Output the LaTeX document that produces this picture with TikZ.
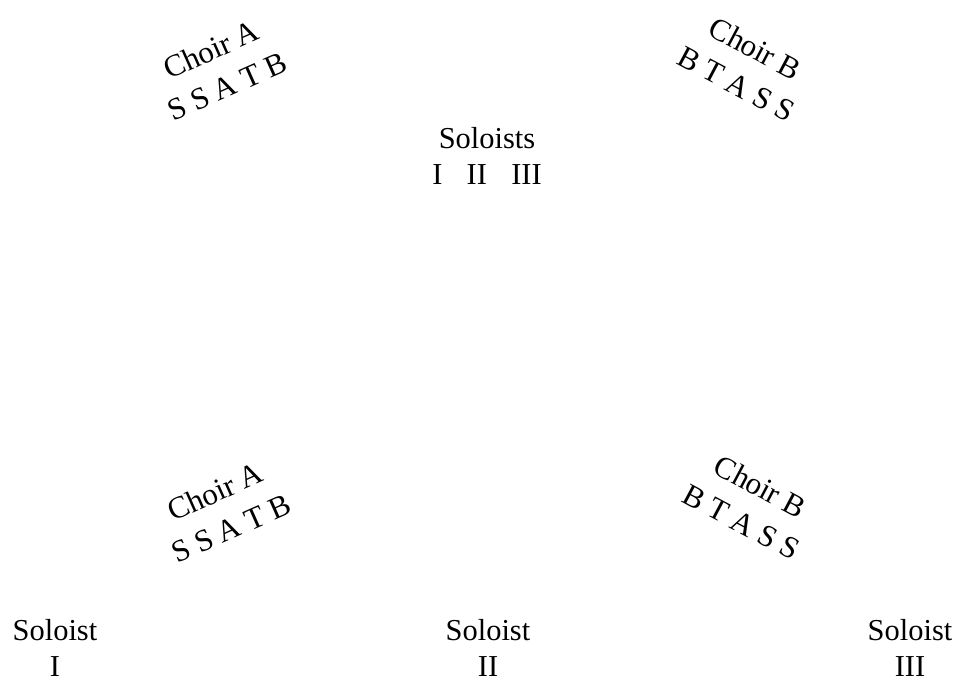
\documentclass[tikz,border=0pt]{standalone}
\usepackage{fontspec}
\setmainfont{Liberation Serif}
\usepackage{tikz}
\usetikzlibrary{positioning}

\tikzset{
    choir/.style={font=\fontsize{10.8}{14}\selectfont},
}

\begin{document}
\begin{tikzpicture}[x=0.3484pt, y=-0.3484pt, every node/.style={align=center, inner sep=0pt, font=\fontsize{10.6}{12.8}\selectfont}]
    \useasboundingbox (0,0) rectangle (965,682);
    % top arrangement
    \node[choir, rotate=24] (choirAtop) at (219,68) {Choir A\\S S A T B};
    \node[choir, rotate=-28] (choirBtop) at (746,66) {Choir B\\B T A S S};
    \node (solotop) at (487,156) {Soloists\\I\hspace{0.8em}II\hspace{0.8em}III};
    % bottom arrangement
    \node[choir, rotate=24] (choirAbot) at (223,510) {Choir A\\S S A T B};
    \node[choir, rotate=-28] (choirBbot) at (751,504) {Choir B\\B T A S S};
    \node (soloI) at (55,648) {Soloist\\I};
    \node (soloII) at (488,648) {Soloist\\II};
    \node (soloIII) at (910,648) {Soloist\\III};
\end{tikzpicture}
\end{document}
